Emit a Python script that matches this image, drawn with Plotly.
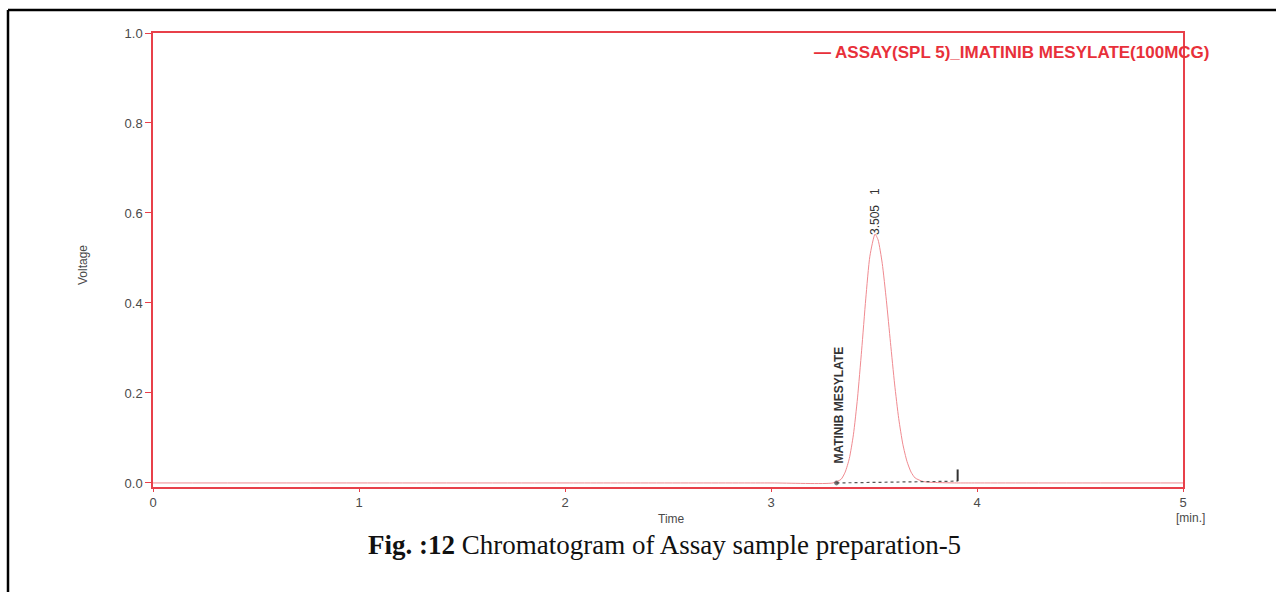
import plotly.graph_objects as go

# ---- data ----
time_min = [0.0, 1.0, 2.0, 3.0, 3.30, 3.34, 3.36, 3.38, 3.40, 3.42, 3.44, 3.46, 3.48, 3.505,
            3.52, 3.54, 3.56, 3.58, 3.60, 3.62, 3.64, 3.66, 3.68, 3.70, 3.74, 3.80, 3.90, 4.0, 5.0]
voltage = [0.0, 0.0, 0.0, 0.0, 0.0, 0.008, 0.024, 0.054, 0.107, 0.189, 0.295, 0.409, 0.504, 0.553,
           0.540, 0.488, 0.406, 0.312, 0.220, 0.143, 0.086, 0.048, 0.024, 0.011, 0.003, 0.001, 0.0, 0.0, 0.0]

baseline_t = [3.318, 3.906]
baseline_v = [0.0, 0.004]
marker_t = [3.906, 3.906]
marker_v = [0.004, 0.030]

peak_time = 3.505
peak_label = "3.505   1"
compound = "MATINIB MESYLATE"
series_name = "ASSAY(SPL 5)_IMATINIB MESYLATE(100MCG)"

x_ticks = [0, 1, 2, 3, 4, 5]
y_ticks = [0.0, 0.2, 0.4, 0.6, 0.8, 1.0]

# ---- geometry ----
W, H = 1276, 592
L, R, T, B = 153, 1183, 33, 487


def px(x):
    return (x - L) / (R - L)


def py(y):
    return (B - y) / (B - T)


RED = "#e8404a"
TICKC = "#4a4a4a"
fig = go.Figure()

fig.add_trace(go.Scatter(x=time_min, y=voltage, mode="lines",
                         line=dict(color="#f08a90", width=1, shape="spline", smoothing=0.6),
                         showlegend=False, hoverinfo="skip"))
fig.add_trace(go.Scatter(x=baseline_t, y=baseline_v, mode="lines+markers",
                         line=dict(color="#555555", width=1.2, dash="dot"),
                         marker=dict(size=[4, 0], color="#333333"), showlegend=False))
fig.add_trace(go.Scatter(x=marker_t, y=marker_v, mode="lines", line=dict(color="#333333", width=2),
                         showlegend=False))

fig.update_layout(
    width=W, height=H,
    margin=dict(l=L, r=W - R, t=T, b=H - B),
    paper_bgcolor="white", plot_bgcolor="white",
    font=dict(family="Liberation Sans, Arial, sans-serif", size=12, color=TICKC),
    xaxis=dict(range=[0, 5], tickvals=x_ticks, ticktext=[str(v) for v in x_ticks],
               showgrid=False, zeroline=False, showline=True, linecolor=RED, linewidth=1.5,
               mirror=True, ticks="outside", tickcolor=RED, ticklen=3, tickwidth=1.2,
               tickfont=dict(size=13, color=TICKC)),
    yaxis=dict(range=[-0.009, 1.0], tickvals=y_ticks, ticktext=[f"{v:.1f}" for v in y_ticks],
               showgrid=False, zeroline=False, showline=True, linecolor=RED, linewidth=1.5,
               mirror=True, ticks="outside", tickcolor=RED, ticklen=6, tickwidth=1.2,
               tickfont=dict(size=13, color=TICKC)),
)

ann = []
# axis titles
ann.append(dict(x=px(83), y=py(265), xref="paper", yref="paper", xanchor="center", yanchor="middle",
                text="Voltage", textangle=-90, showarrow=False, font=dict(size=12, color=TICKC)))
ann.append(dict(x=px(671), y=py(519), xref="paper", yref="paper", xanchor="center", yanchor="middle",
                text="Time", showarrow=False, font=dict(size=12, color=TICKC)))
ann.append(dict(x=px(1190), y=py(518), xref="paper", yref="paper", xanchor="center", yanchor="middle",
                text="[min.]", showarrow=False, font=dict(size=12, color=TICKC)))
# legend text
ann.append(dict(x=px(812), y=py(52), xref="paper", yref="paper", xanchor="left", yanchor="middle",
                text="<b>— " + series_name + "</b>", showarrow=False,
                font=dict(size=17, color="#e8303a")))
# peak labels
ann.append(dict(x=peak_time, y=py(212), xref="x", yref="paper", xanchor="center", yanchor="middle",
                text=peak_label, textangle=-90, showarrow=False,
                font=dict(family="Liberation Sans Narrow, Liberation Sans, Arial", size=12, color="#333333")))
ann.append(dict(x=baseline_t[0] + 0.01, y=py(405), xref="x", yref="paper", xanchor="center", yanchor="middle",
                text="<b>" + compound + "</b>", textangle=-90, showarrow=False,
                font=dict(family="Liberation Sans Narrow, Liberation Sans, Arial", size=12, color="#333333")))
# caption
ann.append(dict(x=px(664), y=py(545), xref="paper", yref="paper", xanchor="center", yanchor="middle",
                text="<b>Fig. :12</b> Chromatogram of Assay sample preparation-5", showarrow=False,
                font=dict(family="Liberation Serif, Times New Roman, serif", size=27, color="#111111")))
fig.update_layout(annotations=ann)

# outer black border of the page frame
fig.add_shape(type="line", xref="paper", yref="paper", x0=px(8), x1=px(8), y0=py(10), y1=py(700),
              line=dict(color="black", width=2.5))
fig.add_shape(type="line", xref="paper", yref="paper", x0=px(8), x1=px(1400), y0=py(10), y1=py(10),
              line=dict(color="black", width=2.5))

fig.write_html("out.html")
